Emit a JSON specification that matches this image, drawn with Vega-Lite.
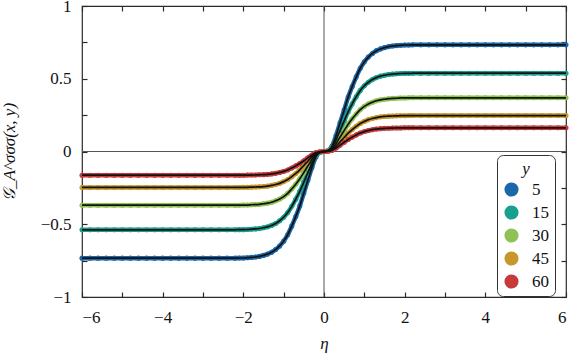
{
"$schema": "https://vega.github.io/schema/vega-lite/v6.json",
"width": 484, "height": 291,
"autosize": "none",
"padding": {"left": 82, "top": 6, "right": 7, "bottom": 56},
"background": "white",
"config": {"view": {"stroke": "#2b2b2b", "strokeWidth": 1.2}, "font": "serif"},
"datasets": {"d": [
{"x":-6,"s":"5","g":-0.733},{"x":-5.8,"s":"5","g":-0.733},{"x":-5.6,"s":"5","g":-0.733},{"x":-5.4,"s":"5","g":-0.733},{"x":-5.2,"s":"5","g":-0.733},{"x":-5,"s":"5","g":-0.733},{"x":-4.8,"s":"5","g":-0.733},{"x":-4.6,"s":"5","g":-0.733},{"x":-4.4,"s":"5","g":-0.733},{"x":-4.2,"s":"5","g":-0.733},{"x":-4,"s":"5","g":-0.733},{"x":-3.8,"s":"5","g":-0.733},{"x":-3.6,"s":"5","g":-0.733},{"x":-3.4,"s":"5","g":-0.733},{"x":-3.2,"s":"5","g":-0.733},{"x":-3,"s":"5","g":-0.733},{"x":-2.8,"s":"5","g":-0.733},{"x":-2.6,"s":"5","g":-0.733},{"x":-2.4,"s":"5","g":-0.733},{"x":-2.2,"s":"5","g":-0.733},
{"x":-2.1,"s":"5","g":-0.732},{"x":-2,"s":"5","g":-0.732},{"x":-1.9,"s":"5","g":-0.730},{"x":-1.8,"s":"5","g":-0.728},{"x":-1.7,"s":"5","g":-0.725},{"x":-1.6,"s":"5","g":-0.721},{"x":-1.5,"s":"5","g":-0.714},{"x":-1.4,"s":"5","g":-0.705},{"x":-1.3,"s":"5","g":-0.693},{"x":-1.2,"s":"5","g":-0.674},{"x":-1.1,"s":"5","g":-0.649},{"x":-1,"s":"5","g":-0.616},{"x":-0.9,"s":"5","g":-0.572},{"x":-0.8,"s":"5","g":-0.513},{"x":-0.7,"s":"5","g":-0.447},{"x":-0.6,"s":"5","g":-0.374},{"x":-0.5,"s":"5","g":-0.286},{"x":-0.4,"s":"5","g":-0.198},{"x":-0.3,"s":"5","g":-0.110},{"x":-0.2,"s":"5","g":-0.037},{"x":-0.1,"s":"5","g":-0.007},
{"x":0,"s":"5","g":0},
{"x":0.1,"s":"5","g":0.007},{"x":0.2,"s":"5","g":0.037},{"x":0.3,"s":"5","g":0.110},{"x":0.4,"s":"5","g":0.198},{"x":0.5,"s":"5","g":0.286},{"x":0.6,"s":"5","g":0.374},{"x":0.7,"s":"5","g":0.447},{"x":0.8,"s":"5","g":0.513},{"x":0.9,"s":"5","g":0.572},{"x":1,"s":"5","g":0.616},{"x":1.1,"s":"5","g":0.649},{"x":1.2,"s":"5","g":0.674},{"x":1.3,"s":"5","g":0.693},{"x":1.4,"s":"5","g":0.705},{"x":1.5,"s":"5","g":0.714},{"x":1.6,"s":"5","g":0.721},{"x":1.7,"s":"5","g":0.725},{"x":1.8,"s":"5","g":0.728},{"x":1.9,"s":"5","g":0.730},{"x":2,"s":"5","g":0.732},{"x":2.1,"s":"5","g":0.732},
{"x":2.2,"s":"5","g":0.733},{"x":2.4,"s":"5","g":0.733},{"x":2.6,"s":"5","g":0.733},{"x":2.8,"s":"5","g":0.733},{"x":3,"s":"5","g":0.733},{"x":3.2,"s":"5","g":0.733},{"x":3.4,"s":"5","g":0.733},{"x":3.6,"s":"5","g":0.733},{"x":3.8,"s":"5","g":0.733},{"x":4,"s":"5","g":0.733},{"x":4.2,"s":"5","g":0.733},{"x":4.4,"s":"5","g":0.733},{"x":4.6,"s":"5","g":0.733},{"x":4.8,"s":"5","g":0.733},{"x":5,"s":"5","g":0.733},{"x":5.2,"s":"5","g":0.733},{"x":5.4,"s":"5","g":0.733},{"x":5.6,"s":"5","g":0.733},{"x":5.8,"s":"5","g":0.733},{"x":6,"s":"5","g":0.733},

{"x":-6,"s":"15","g":-0.538},{"x":-5.8,"s":"15","g":-0.538},{"x":-5.6,"s":"15","g":-0.538},{"x":-5.4,"s":"15","g":-0.538},{"x":-5.2,"s":"15","g":-0.538},{"x":-5,"s":"15","g":-0.538},{"x":-4.8,"s":"15","g":-0.538},{"x":-4.6,"s":"15","g":-0.538},{"x":-4.4,"s":"15","g":-0.538},{"x":-4.2,"s":"15","g":-0.538},{"x":-4,"s":"15","g":-0.538},{"x":-3.8,"s":"15","g":-0.538},{"x":-3.6,"s":"15","g":-0.538},{"x":-3.4,"s":"15","g":-0.538},{"x":-3.2,"s":"15","g":-0.538},{"x":-3,"s":"15","g":-0.538},{"x":-2.8,"s":"15","g":-0.538},{"x":-2.6,"s":"15","g":-0.538},{"x":-2.4,"s":"15","g":-0.538},{"x":-2.2,"s":"15","g":-0.538},
{"x":-2.1,"s":"15","g":-0.537},{"x":-2,"s":"15","g":-0.537},{"x":-1.9,"s":"15","g":-0.536},{"x":-1.8,"s":"15","g":-0.534},{"x":-1.7,"s":"15","g":-0.532},{"x":-1.6,"s":"15","g":-0.529},{"x":-1.5,"s":"15","g":-0.524},{"x":-1.4,"s":"15","g":-0.518},{"x":-1.3,"s":"15","g":-0.508},{"x":-1.2,"s":"15","g":-0.495},{"x":-1.1,"s":"15","g":-0.476},{"x":-1,"s":"15","g":-0.452},{"x":-0.9,"s":"15","g":-0.420},{"x":-0.8,"s":"15","g":-0.377},{"x":-0.7,"s":"15","g":-0.328},{"x":-0.6,"s":"15","g":-0.274},{"x":-0.5,"s":"15","g":-0.210},{"x":-0.4,"s":"15","g":-0.145},{"x":-0.3,"s":"15","g":-0.081},{"x":-0.2,"s":"15","g":-0.027},{"x":-0.1,"s":"15","g":-0.005},
{"x":0,"s":"15","g":0},
{"x":0.1,"s":"15","g":0.005},{"x":0.2,"s":"15","g":0.027},{"x":0.3,"s":"15","g":0.081},{"x":0.4,"s":"15","g":0.145},{"x":0.5,"s":"15","g":0.210},{"x":0.6,"s":"15","g":0.274},{"x":0.7,"s":"15","g":0.328},{"x":0.8,"s":"15","g":0.377},{"x":0.9,"s":"15","g":0.420},{"x":1,"s":"15","g":0.452},{"x":1.1,"s":"15","g":0.476},{"x":1.2,"s":"15","g":0.495},{"x":1.3,"s":"15","g":0.508},{"x":1.4,"s":"15","g":0.518},{"x":1.5,"s":"15","g":0.524},{"x":1.6,"s":"15","g":0.529},{"x":1.7,"s":"15","g":0.532},{"x":1.8,"s":"15","g":0.534},{"x":1.9,"s":"15","g":0.536},{"x":2,"s":"15","g":0.537},{"x":2.1,"s":"15","g":0.537},
{"x":2.2,"s":"15","g":0.538},{"x":2.4,"s":"15","g":0.538},{"x":2.6,"s":"15","g":0.538},{"x":2.8,"s":"15","g":0.538},{"x":3,"s":"15","g":0.538},{"x":3.2,"s":"15","g":0.538},{"x":3.4,"s":"15","g":0.538},{"x":3.6,"s":"15","g":0.538},{"x":3.8,"s":"15","g":0.538},{"x":4,"s":"15","g":0.538},{"x":4.2,"s":"15","g":0.538},{"x":4.4,"s":"15","g":0.538},{"x":4.6,"s":"15","g":0.538},{"x":4.8,"s":"15","g":0.538},{"x":5,"s":"15","g":0.538},{"x":5.2,"s":"15","g":0.538},{"x":5.4,"s":"15","g":0.538},{"x":5.6,"s":"15","g":0.538},{"x":5.8,"s":"15","g":0.538},{"x":6,"s":"15","g":0.538},

{"x":-6,"s":"30","g":-0.369},{"x":-5.8,"s":"30","g":-0.369},{"x":-5.6,"s":"30","g":-0.369},{"x":-5.4,"s":"30","g":-0.369},{"x":-5.2,"s":"30","g":-0.369},{"x":-5,"s":"30","g":-0.369},{"x":-4.8,"s":"30","g":-0.369},{"x":-4.6,"s":"30","g":-0.369},{"x":-4.4,"s":"30","g":-0.369},{"x":-4.2,"s":"30","g":-0.369},{"x":-4,"s":"30","g":-0.369},{"x":-3.8,"s":"30","g":-0.369},{"x":-3.6,"s":"30","g":-0.369},{"x":-3.4,"s":"30","g":-0.369},{"x":-3.2,"s":"30","g":-0.369},{"x":-3,"s":"30","g":-0.369},{"x":-2.8,"s":"30","g":-0.369},{"x":-2.6,"s":"30","g":-0.369},{"x":-2.4,"s":"30","g":-0.369},{"x":-2.2,"s":"30","g":-0.369},
{"x":-2.1,"s":"30","g":-0.369},{"x":-2,"s":"30","g":-0.368},{"x":-1.9,"s":"30","g":-0.368},{"x":-1.8,"s":"30","g":-0.366},{"x":-1.7,"s":"30","g":-0.365},{"x":-1.6,"s":"30","g":-0.363},{"x":-1.5,"s":"30","g":-0.359},{"x":-1.4,"s":"30","g":-0.355},{"x":-1.3,"s":"30","g":-0.349},{"x":-1.2,"s":"30","g":-0.339},{"x":-1.1,"s":"30","g":-0.327},{"x":-1,"s":"30","g":-0.310},{"x":-0.9,"s":"30","g":-0.288},{"x":-0.8,"s":"30","g":-0.258},{"x":-0.7,"s":"30","g":-0.225},{"x":-0.6,"s":"30","g":-0.188},{"x":-0.5,"s":"30","g":-0.144},{"x":-0.4,"s":"30","g":-0.100},{"x":-0.3,"s":"30","g":-0.055},{"x":-0.2,"s":"30","g":-0.018},{"x":-0.1,"s":"30","g":-0.004},
{"x":0,"s":"30","g":0},
{"x":0.1,"s":"30","g":0.004},{"x":0.2,"s":"30","g":0.018},{"x":0.3,"s":"30","g":0.055},{"x":0.4,"s":"30","g":0.100},{"x":0.5,"s":"30","g":0.144},{"x":0.6,"s":"30","g":0.188},{"x":0.7,"s":"30","g":0.225},{"x":0.8,"s":"30","g":0.258},{"x":0.9,"s":"30","g":0.288},{"x":1,"s":"30","g":0.310},{"x":1.1,"s":"30","g":0.327},{"x":1.2,"s":"30","g":0.339},{"x":1.3,"s":"30","g":0.349},{"x":1.4,"s":"30","g":0.355},{"x":1.5,"s":"30","g":0.359},{"x":1.6,"s":"30","g":0.363},{"x":1.7,"s":"30","g":0.365},{"x":1.8,"s":"30","g":0.366},{"x":1.9,"s":"30","g":0.368},{"x":2,"s":"30","g":0.368},{"x":2.1,"s":"30","g":0.369},
{"x":2.2,"s":"30","g":0.369},{"x":2.4,"s":"30","g":0.369},{"x":2.6,"s":"30","g":0.369},{"x":2.8,"s":"30","g":0.369},{"x":3,"s":"30","g":0.369},{"x":3.2,"s":"30","g":0.369},{"x":3.4,"s":"30","g":0.369},{"x":3.6,"s":"30","g":0.369},{"x":3.8,"s":"30","g":0.369},{"x":4,"s":"30","g":0.369},{"x":4.2,"s":"30","g":0.369},{"x":4.4,"s":"30","g":0.369},{"x":4.6,"s":"30","g":0.369},{"x":4.8,"s":"30","g":0.369},{"x":5,"s":"30","g":0.369},{"x":5.2,"s":"30","g":0.369},{"x":5.4,"s":"30","g":0.369},{"x":5.6,"s":"30","g":0.369},{"x":5.8,"s":"30","g":0.369},{"x":6,"s":"30","g":0.369},

{"x":-6,"s":"45","g":-0.247},{"x":-5.8,"s":"45","g":-0.247},{"x":-5.6,"s":"45","g":-0.247},{"x":-5.4,"s":"45","g":-0.247},{"x":-5.2,"s":"45","g":-0.247},{"x":-5,"s":"45","g":-0.247},{"x":-4.8,"s":"45","g":-0.247},{"x":-4.6,"s":"45","g":-0.247},{"x":-4.4,"s":"45","g":-0.247},{"x":-4.2,"s":"45","g":-0.247},{"x":-4,"s":"45","g":-0.247},{"x":-3.8,"s":"45","g":-0.247},{"x":-3.6,"s":"45","g":-0.247},{"x":-3.4,"s":"45","g":-0.247},{"x":-3.2,"s":"45","g":-0.247},{"x":-3,"s":"45","g":-0.247},{"x":-2.8,"s":"45","g":-0.247},{"x":-2.6,"s":"45","g":-0.247},{"x":-2.4,"s":"45","g":-0.247},{"x":-2.2,"s":"45","g":-0.247},
{"x":-2.1,"s":"45","g":-0.247},{"x":-2,"s":"45","g":-0.246},{"x":-1.9,"s":"45","g":-0.246},{"x":-1.8,"s":"45","g":-0.245},{"x":-1.7,"s":"45","g":-0.244},{"x":-1.6,"s":"45","g":-0.243},{"x":-1.5,"s":"45","g":-0.241},{"x":-1.4,"s":"45","g":-0.238},{"x":-1.3,"s":"45","g":-0.233},{"x":-1.2,"s":"45","g":-0.227},{"x":-1.1,"s":"45","g":-0.219},{"x":-1,"s":"45","g":-0.207},{"x":-0.9,"s":"45","g":-0.193},{"x":-0.8,"s":"45","g":-0.173},{"x":-0.7,"s":"45","g":-0.151},{"x":-0.6,"s":"45","g":-0.126},{"x":-0.5,"s":"45","g":-0.096},{"x":-0.4,"s":"45","g":-0.067},{"x":-0.3,"s":"45","g":-0.037},{"x":-0.2,"s":"45","g":-0.012},{"x":-0.1,"s":"45","g":-0.002},
{"x":0,"s":"45","g":0},
{"x":0.1,"s":"45","g":0.002},{"x":0.2,"s":"45","g":0.012},{"x":0.3,"s":"45","g":0.037},{"x":0.4,"s":"45","g":0.067},{"x":0.5,"s":"45","g":0.096},{"x":0.6,"s":"45","g":0.126},{"x":0.7,"s":"45","g":0.151},{"x":0.8,"s":"45","g":0.173},{"x":0.9,"s":"45","g":0.193},{"x":1,"s":"45","g":0.207},{"x":1.1,"s":"45","g":0.219},{"x":1.2,"s":"45","g":0.227},{"x":1.3,"s":"45","g":0.233},{"x":1.4,"s":"45","g":0.238},{"x":1.5,"s":"45","g":0.241},{"x":1.6,"s":"45","g":0.243},{"x":1.7,"s":"45","g":0.244},{"x":1.8,"s":"45","g":0.245},{"x":1.9,"s":"45","g":0.246},{"x":2,"s":"45","g":0.246},{"x":2.1,"s":"45","g":0.247},
{"x":2.2,"s":"45","g":0.247},{"x":2.4,"s":"45","g":0.247},{"x":2.6,"s":"45","g":0.247},{"x":2.8,"s":"45","g":0.247},{"x":3,"s":"45","g":0.247},{"x":3.2,"s":"45","g":0.247},{"x":3.4,"s":"45","g":0.247},{"x":3.6,"s":"45","g":0.247},{"x":3.8,"s":"45","g":0.247},{"x":4,"s":"45","g":0.247},{"x":4.2,"s":"45","g":0.247},{"x":4.4,"s":"45","g":0.247},{"x":4.6,"s":"45","g":0.247},{"x":4.8,"s":"45","g":0.247},{"x":5,"s":"45","g":0.247},{"x":5.2,"s":"45","g":0.247},{"x":5.4,"s":"45","g":0.247},{"x":5.6,"s":"45","g":0.247},{"x":5.8,"s":"45","g":0.247},{"x":6,"s":"45","g":0.247},

{"x":-6,"s":"60","g":-0.163},{"x":-5.8,"s":"60","g":-0.163},{"x":-5.6,"s":"60","g":-0.163},{"x":-5.4,"s":"60","g":-0.163},{"x":-5.2,"s":"60","g":-0.163},{"x":-5,"s":"60","g":-0.163},{"x":-4.8,"s":"60","g":-0.163},{"x":-4.6,"s":"60","g":-0.163},{"x":-4.4,"s":"60","g":-0.163},{"x":-4.2,"s":"60","g":-0.163},{"x":-4,"s":"60","g":-0.163},{"x":-3.8,"s":"60","g":-0.163},{"x":-3.6,"s":"60","g":-0.163},{"x":-3.4,"s":"60","g":-0.163},{"x":-3.2,"s":"60","g":-0.163},{"x":-3,"s":"60","g":-0.163},{"x":-2.8,"s":"60","g":-0.163},{"x":-2.6,"s":"60","g":-0.163},{"x":-2.4,"s":"60","g":-0.163},{"x":-2.2,"s":"60","g":-0.163},
{"x":-2.1,"s":"60","g":-0.163},{"x":-2,"s":"60","g":-0.163},{"x":-1.9,"s":"60","g":-0.162},{"x":-1.8,"s":"60","g":-0.162},{"x":-1.7,"s":"60","g":-0.161},{"x":-1.6,"s":"60","g":-0.160},{"x":-1.5,"s":"60","g":-0.159},{"x":-1.4,"s":"60","g":-0.157},{"x":-1.3,"s":"60","g":-0.154},{"x":-1.2,"s":"60","g":-0.150},{"x":-1.1,"s":"60","g":-0.144},{"x":-1,"s":"60","g":-0.137},{"x":-0.9,"s":"60","g":-0.127},{"x":-0.8,"s":"60","g":-0.114},{"x":-0.7,"s":"60","g":-0.099},{"x":-0.6,"s":"60","g":-0.083},{"x":-0.5,"s":"60","g":-0.064},{"x":-0.4,"s":"60","g":-0.044},{"x":-0.3,"s":"60","g":-0.024},{"x":-0.2,"s":"60","g":-0.008},{"x":-0.1,"s":"60","g":-0.002},
{"x":0,"s":"60","g":0},
{"x":0.1,"s":"60","g":0.002},{"x":0.2,"s":"60","g":0.008},{"x":0.3,"s":"60","g":0.024},{"x":0.4,"s":"60","g":0.044},{"x":0.5,"s":"60","g":0.064},{"x":0.6,"s":"60","g":0.083},{"x":0.7,"s":"60","g":0.099},{"x":0.8,"s":"60","g":0.114},{"x":0.9,"s":"60","g":0.127},{"x":1,"s":"60","g":0.137},{"x":1.1,"s":"60","g":0.144},{"x":1.2,"s":"60","g":0.150},{"x":1.3,"s":"60","g":0.154},{"x":1.4,"s":"60","g":0.157},{"x":1.5,"s":"60","g":0.159},{"x":1.6,"s":"60","g":0.160},{"x":1.7,"s":"60","g":0.161},{"x":1.8,"s":"60","g":0.162},{"x":1.9,"s":"60","g":0.162},{"x":2,"s":"60","g":0.163},{"x":2.1,"s":"60","g":0.163},
{"x":2.2,"s":"60","g":0.163},{"x":2.4,"s":"60","g":0.163},{"x":2.6,"s":"60","g":0.163},{"x":2.8,"s":"60","g":0.163},{"x":3,"s":"60","g":0.163},{"x":3.2,"s":"60","g":0.163},{"x":3.4,"s":"60","g":0.163},{"x":3.6,"s":"60","g":0.163},{"x":3.8,"s":"60","g":0.163},{"x":4,"s":"60","g":0.163},{"x":4.2,"s":"60","g":0.163},{"x":4.4,"s":"60","g":0.163},{"x":4.6,"s":"60","g":0.163},{"x":4.8,"s":"60","g":0.163},{"x":5,"s":"60","g":0.163},{"x":5.2,"s":"60","g":0.163},{"x":5.4,"s":"60","g":0.163},{"x":5.6,"s":"60","g":0.163},{"x":5.8,"s":"60","g":0.163},{"x":6,"s":"60","g":0.163}
]},
"data": {"name": "d"},
"resolve": {"axis": {"x": "independent", "y": "independent"}},
"layer": [
{
"data": {"values": [{"z": 0}]},
"mark": {"type": "rule", "color": "#555555", "strokeWidth": 1},
"encoding": {
"x": {"field": "z", "type": "quantitative", "scale": {"domain": [-6, 6], "nice": false},
"axis": {"orient": "bottom", "values": [-6,-5,-4,-3,-2,-1,0,1,2,3,4,5,6], "format": "d", "labelExpr": "datum.value % 2 ? '' : datum.label", "tickSize": -5, "tickColor": "#2b2b2b", "tickWidth": 1.2, "domain": false, "grid": false, "labelFont": "serif", "labelFontSize": 17, "labelColor": "#111", "labelPadding": 17, "title": "η", "titleFont": "serif", "titleFontSize": 17, "titleFontStyle": "italic", "titleFontWeight": "normal", "titleColor": "#111", "titlePadding": 10}}
}
},
{
"data": {"values": [{"z": 0}]},
"mark": {"type": "rule", "color": "#555555", "strokeWidth": 1},
"encoding": {
"y": {"field": "z", "type": "quantitative", "scale": {"domain": [-1, 1], "nice": false},
"axis": {"orient": "left", "values": [-1,-0.75,-0.5,-0.25,0,0.25,0.5,0.75,1], "format": "~g", "labelExpr": "(datum.value*4) % 2 ? '' : datum.label", "tickSize": -5, "tickColor": "#2b2b2b", "tickWidth": 1.2, "domain": false, "grid": false, "labelFont": "serif", "labelFontSize": 17, "labelColor": "#111", "labelPadding": 16, "title": "𝒢_A^σσσ(x, y)", "titleFont": "serif", "titleFontSize": 17, "titleFontStyle": "italic", "titleFontWeight": "normal", "titleColor": "#111", "titlePadding": 22}}
}
},
{
"mark": {"type": "line", "strokeWidth": 4.5, "interpolate": "monotone"},
"encoding": {
"x": {"field": "x", "type": "quantitative", "scale": {"domain": [-6, 6], "nice": false}, "axis": null},
"y": {"field": "g", "type": "quantitative", "scale": {"domain": [-1, 1], "nice": false}, "axis": null},
"color": {"field": "s", "type": "nominal", "scale": {"domain": ["5","15","30","45","60"], "range": ["#1b67a8","#17a08d","#8fc153","#c8962b","#c8393b"]}}
}
},
{
"mark": {"type": "circle", "size": 26, "opacity": 1},
"encoding": {
"x": {"field": "x", "type": "quantitative", "scale": {"domain": [-6, 6], "nice": false}, "axis": null},
"y": {"field": "g", "type": "quantitative", "scale": {"domain": [-1, 1], "nice": false}, "axis": null},
"color": {"field": "s", "type": "nominal", "scale": {"domain": ["5","15","30","45","60"], "range": ["#1b67a8","#17a08d","#8fc153","#c8962b","#c8393b"]},
"legend": {"orient": "none", "legendX": 415, "legendY": 149, "title": "y", "titleFont": "serif", "titleFontStyle": "italic", "titleFontWeight": "normal", "titleFontSize": 17, "titleAnchor": "middle", "titleColor": "#111", "titlePadding": 3, "labelFont": "serif", "labelFontSize": 17, "labelColor": "#111", "labelOffset": 12, "symbolType": "circle", "symbolSize": 200, "symbolOpacity": 1, "symbolStrokeWidth": 0, "rowPadding": 5, "padding": 6, "strokeColor": "#333", "cornerRadius": 6, "fillColor": "white",
"encode": {"symbols": {"update": {"fill": {"scale": "color", "field": "value"}, "strokeWidth": {"value": 0}}}}}}
}
},
{
"mark": {"type": "line", "color": "#111111", "strokeWidth": 1.7, "interpolate": "monotone"},
"encoding": {
"x": {"field": "x", "type": "quantitative", "scale": {"domain": [-6, 6], "nice": false},
"axis": {"orient": "top", "values": [-6,-5,-4,-3,-2,-1,0,1,2,3,4,5,6], "labels": false, "tickSize": -5, "tickColor": "#2b2b2b", "tickWidth": 1.2, "domain": false, "grid": false, "title": null}},
"y": {"field": "g", "type": "quantitative", "scale": {"domain": [-1, 1], "nice": false},
"axis": {"orient": "right", "values": [-1,-0.75,-0.5,-0.25,0,0.25,0.5,0.75,1], "labels": false, "tickSize": -5, "tickColor": "#2b2b2b", "tickWidth": 1.2, "domain": false, "grid": false, "title": null}},
"detail": {"field": "s", "type": "nominal"}
}
}
]
}
